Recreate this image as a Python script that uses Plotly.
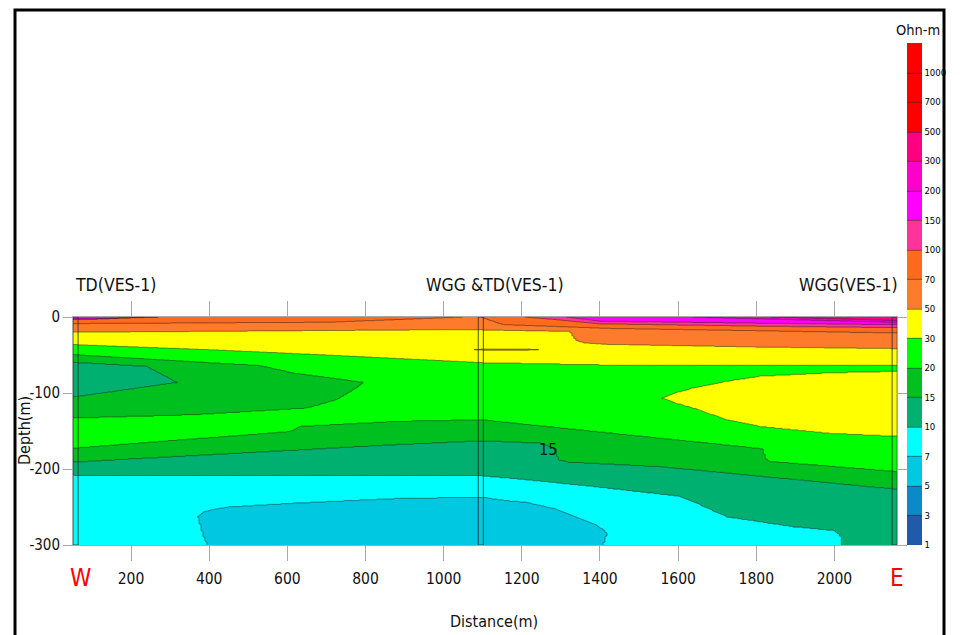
import numpy as np
import plotly.graph_objects as go

# ---------------- data ----------------
LEVELS = [1, 3, 5, 7, 10, 15, 20, 30, 50, 70, 100, 150, 200, 300, 500, 700, 1000]
BAND_COLORS = ['#1F5BAA', '#0A8BC8', '#00C8E0', '#00FFFF', '#00B070', '#00C020',
               '#00FF00', '#FFFF00', '#FF7B2C', '#FF6A1C', '#FF3399', '#FF00FF',
               '#FF00CC', '#FF0080', '#FF0000', '#FF0000', '#FF0000']

X_TICKS = [200, 400, 600, 800, 1000, 1200, 1400, 1600, 1800, 2000]
Y_TICKS = [0, -100, -200, -300]
X_RANGE = [51.5, 2160]
Y_RANGE = [-300, 0]

VES_X = [58, 1095, 2154]
VES_LABELS = ['TD(VES-1)', 'WGG &TD(VES-1)', 'WGG(VES-1)']

# representative resistivities of each unit (Ohm-m)
RHO_SKY, RHO_CYAN, RHO_TEAL, RHO_DKGREEN, RHO_GREEN = 6, 8.5, 12, 17, 25
RHO_YELLOW, RHO_ORANGE, RHO_DKORANGE = 40, 60, 85
RHO_PINK, RHO_MAGENTA, RHO_MAGENTA2, RHO_DEEPPINK = 120, 170, 250, 400

# base (x m, depth m) of the continuous units
BASE_DKORANGE = [(51.5, -8.6), (300, -8), (710, -6.8), (900, -3), (1050, 0), (1096, 0),
                 (1100, -1), (1152, -10), (1426, -15), (1800, -18), (2160, -21)]
BASE_ORANGE = [(51.5, -20), (500, -18.5), (1050, -16.5), (1096, -17), (1323, -19),
               (1328, -22), (1333, -27), (1342, -31.5), (1360, -34), (1420, -36),
               (1800, -39.5), (2160, -41.6)]
BASE_YELLOW = [(51.5, -36.3), (400, -43), (700, -50), (900, -55), (1096, -60),
               (1400, -63), (2160, -64)]
BASE_GREEN = [(51.5, -172.6), (607, -150.7), (633, -144), (871, -137.5), (1096, -135.2),
              (1818, -173.5), (1822, -186), (1835, -190), (2160, -203.4)]
BASE_DKGREEN = [(51.5, -191), (871, -168.2), (1096, -163), (1247, -166), (1288, -174),
                (1292, -188), (1320, -191), (1554, -197), (2160, -226.7)]
BASE_TEAL = [(51.5, -208), (1096, -209), (1170, -212), (1383, -223), (1605, -236),
             (1660, -248), (1725, -263), (1895, -276), (2000, -281), (2015, -288),
             (2018, -300.5), (2160, -300.5)]

# lenses: (top polyline, bottom polyline)
WEDGE_DKGREEN_TOP = [(51.5, -49.5), (530, -64), (615, -73.6), (795, -86)]
WEDGE_DKGREEN_BOT = [(51.5, -133), (359, -128.6), (650, -119.8), (726, -108.8),
                     (769, -95.6), (795, -86)]
LENS_TEAL_TOP = [(51.5, -59.6), (240, -65), (317, -86)]
LENS_TEAL_BOT = [(51.5, -105.3), (317, -86)]
WEDGE_YELLOW_TOP = [(1558, -106.6), (1600, -99), (1639, -93.4), (1724, -84.6),
                    (1810, -78), (1981, -73.6), (2160, -71.5)]
WEDGE_YELLOW_BOT = [(1558, -106.6), (1600, -114), (1639, -119.8), (1724, -135),
                    (1810, -144), (1981, -152.8), (2160, -157)]
LENS_SKY_TOP = [(371, -263), (385, -257), (402, -254), (450, -250), (615, -245),
                (871, -239), (1096, -237), (1170, -242), (1213, -244), (1290, -253),
                (1323, -260), (1383, -271.5), (1410, -280), (1418, -285)]
LENS_SKY_BOT = [(371, -263), (383, -285), (395, -300.5), (1408, -300.5), (1418, -285)]
SURF_PINK_BOT = [(1195, 0.5), (1300, -4), (1400, -9), (1800, -12), (2160, -14)]
SURF_MAGENTA_BOT = [(1306, 0.5), (1400, -5.5), (1800, -8), (2160, -10)]
SURF_MAGENTA2_BOT = [(1600, 0.5), (2160, -7)]
SURF_DEEPPINK_BOT = [(1800, 0.5), (2160, -4.5)]
SURF_LEFT_BOT = [(51.5, -3), (113, -2.5), (200, -1), (300, 0.5)]
SLIVER_TOP = [(1073, -42.9), (1110, -42.2), (1210, -42.3), (1249, -42.9)]
SLIVER_BOT = [(1073, -42.9), (1110, -43.8), (1210, -43.7), (1249, -42.9)]

# ---------------- gridding ----------------
X = np.linspace(X_RANGE[0], X_RANGE[1], 423)
D = np.concatenate([np.arange(0, -60, -0.5), np.arange(-60, -300.5, -1.0)])
XX, DD = np.meshgrid(X, D)


def curve(pts):
    xs, ds = zip(*pts)
    return np.interp(X, xs, ds), min(xs), max(xs)


rho = np.full(XX.shape, float(RHO_CYAN))
for val, base in [(RHO_TEAL, BASE_TEAL), (RHO_DKGREEN, BASE_DKGREEN), (RHO_GREEN, BASE_GREEN),
                  (RHO_YELLOW, BASE_YELLOW), (RHO_ORANGE, BASE_ORANGE),
                  (RHO_DKORANGE, BASE_DKORANGE)]:
    b, _, _ = curve(base)
    rho[DD > b[None, :]] = val


def paint(top_pts, bot_pts, val):
    t, tx0, tx1 = curve(top_pts)
    b, bx0, bx1 = curve(bot_pts)
    inx = (X >= max(tx0, bx0)) & (X <= min(tx1, bx1))
    m = inx[None, :] & (DD <= t[None, :]) & (DD > b[None, :])
    rho[m] = val


def surface(bot_pts):
    return [(bot_pts[0][0], 1), (bot_pts[-1][0], 1)]


paint(WEDGE_DKGREEN_TOP, WEDGE_DKGREEN_BOT, RHO_DKGREEN)
paint(LENS_TEAL_TOP, LENS_TEAL_BOT, RHO_TEAL)
paint(WEDGE_YELLOW_TOP, WEDGE_YELLOW_BOT, RHO_YELLOW)
paint(LENS_SKY_TOP, LENS_SKY_BOT, RHO_SKY)
paint(surface(SURF_PINK_BOT), SURF_PINK_BOT, RHO_PINK)
paint(surface(SURF_MAGENTA_BOT), SURF_MAGENTA_BOT, RHO_MAGENTA)
paint(surface(SURF_MAGENTA2_BOT), SURF_MAGENTA2_BOT, RHO_MAGENTA2)
paint(surface(SURF_DEEPPINK_BOT), SURF_DEEPPINK_BOT, RHO_DEEPPINK)
paint(surface(SURF_LEFT_BOT), SURF_LEFT_BOT, RHO_MAGENTA)
paint(SLIVER_TOP, SLIVER_BOT, RHO_ORANGE)

# class index (equal-width bands as in the legend)
Z = np.round(np.interp(np.log10(rho), np.log10(LEVELS), np.arange(len(LEVELS))), 3)

NB = len(BAND_COLORS)
CS = []
for k, c in enumerate(BAND_COLORS):
    CS.append([k / NB, c])
    CS.append([(k + 1) / NB, c])

# ---------------- layout geometry (reference pixel frame) ----------------
OFF = 8                      # page body margin of the html page
W, H = 960, 635
PL, PR, PT, PB = 73, 897, 317, 545           # plot box in reference pixels
ML, MT = PL - OFF, PT - OFF
MR, MB = W - (PR - OFF), H - (PB - OFF)
PW, PH = PR - PL, PB - PT


def px(xp):
    return (xp - PL) / PW


def py(yp):
    return (PB - yp) / PH


FONT = 'DejaVu Sans Condensed, DejaVu Sans, Liberation Sans, sans-serif'
TXT = '#111111'


def label(text, x, y, size, color=TXT, xref='paper', yref='paper', **kw):
    d = dict(text=text, x=x, y=y, xref=xref, yref=yref, showarrow=False,
             xanchor=kw.pop('xanchor', 'center'), yanchor=kw.pop('yanchor', 'middle'),
             font=dict(size=size, family=FONT, color=color))
    d.update(kw)
    return d


fig = go.Figure()
fig.add_trace(go.Contour(
    x=X, y=D, z=Z, zmin=0, zmax=NB, zauto=False, autocontour=False,
    contours=dict(start=1, end=16, size=1, coloring='fill', showlines=True),
    line=dict(width=0.6, color='rgba(30,30,30,0.85)', smoothing=1),
    colorscale=CS, hoverinfo='skip',
    colorbar=dict(x=px(907), xanchor='left', xpad=0, y=0, yanchor='bottom', ypad=0,
                  len=(PB - 43) / PH, lenmode='fraction', thickness=15,
                  thicknessmode='pixels', outlinewidth=0, tickmode='array',
                  tickvals=list(range(len(LEVELS))), ticktext=[str(v) for v in LEVELS],
                  ticks='', tickfont=dict(size=9.5, family=FONT, color='black')),
))

shapes = []
for v in VES_X:
    shapes.append(dict(type='rect', xref='x', yref='y', x0=v - 6.5, x1=v + 6.5,
                       y0=Y_RANGE[0], y1=Y_RANGE[1],
                       line=dict(color='rgba(40,40,40,0.8)', width=1)))
shapes.append(dict(type='rect', xref='paper', yref='paper', x0=px(15), x1=px(944),
                   y0=py(660), y1=py(10), line=dict(color='black', width=3)))

ann = [
    label(VES_LABELS[0], X_RANGE[0], py(285), 17.5, xref='x', xanchor='left'),
    label(VES_LABELS[1], VES_X[1], py(285), 17.5, xref='x', xshift=14),
    label(VES_LABELS[2], X_RANGE[1], py(285), 17.5, xref='x', xanchor='right', xshift=3),
    label('W', px(80), py(578), 24, color='#FF0000'),
    label('E', px(897), py(578), 24, color='#FF0000'),
    label('Depth(m)', px(24), py(431), 16, textangle=-90),
    label('Distance(m)', px(494), py(621), 16),
    label('Ohn-m', px(918), py(30), 14.5),
    label('15', 1267, -174.8, 16, xref='x', yref='y'),
]

fig.update_layout(
    width=W, height=H, margin=dict(l=ML, r=MR, t=MT, b=MB, autoexpand=False),
    paper_bgcolor='white', plot_bgcolor='white', showlegend=False,
    font=dict(family=FONT, color=TXT),
    shapes=shapes, annotations=ann,
    xaxis=dict(range=X_RANGE, tickmode='array', tickvals=X_TICKS,
               ticktext=[str(t) for t in X_TICKS], ticks='outside', ticklen=15,
               ticklabelstandoff=4,
               tickcolor='#a8a8a8', showline=True, linecolor='#a8a8a8', mirror='ticks',
               showgrid=False, zeroline=False, tickfont=dict(size=15.5, family=FONT, color=TXT)),
    yaxis=dict(range=Y_RANGE, tickmode='array', tickvals=Y_TICKS,
               ticktext=[str(t) for t in Y_TICKS], ticks='outside', ticklen=9,
               tickcolor='#a8a8a8', showline=True, linecolor='#a8a8a8', mirror='ticks',
               showgrid=False, zeroline=False, tickfont=dict(size=15, family=FONT, color=TXT)),
)

fig.write_html('out.html')
